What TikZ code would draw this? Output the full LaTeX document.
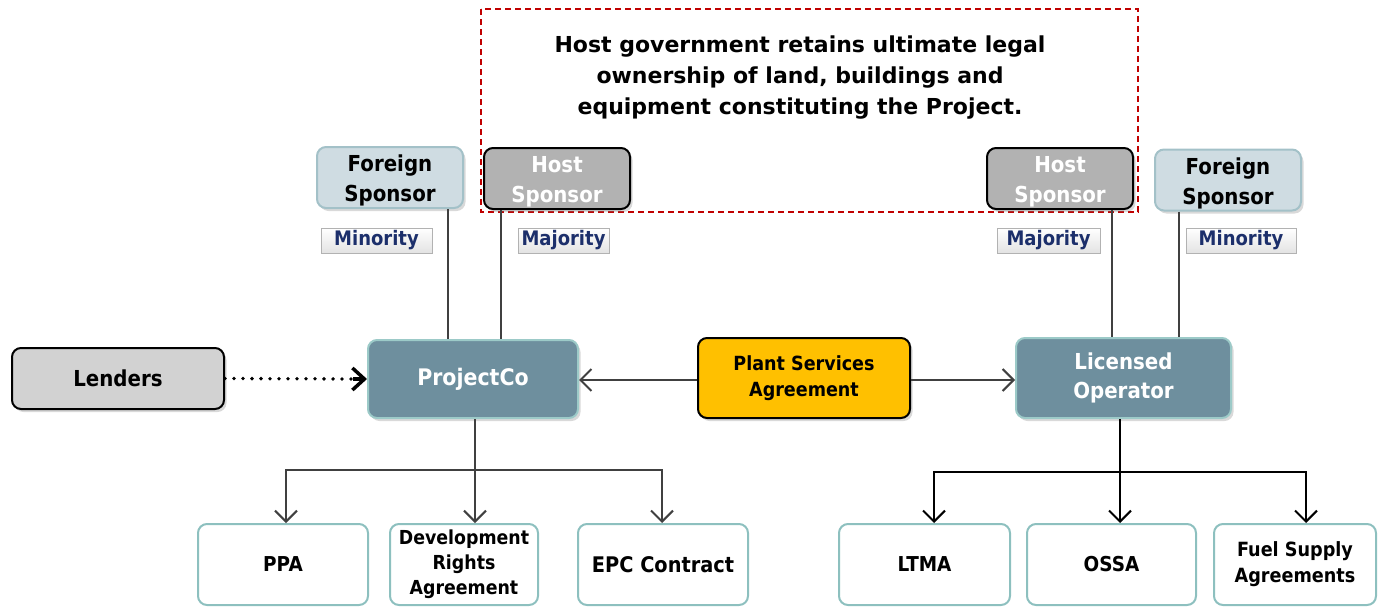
\documentclass[tikz,border=0pt]{standalone}
\usepackage{fontspec}
\setmainfont[FakeStretch=0.9]{DejaVu Sans}
\newfontfamily\titlefont{DejaVu Sans}
\usetikzlibrary{arrows.meta,shadows,calc}
\definecolor{fsfill}{HTML}{CFDCE2}
\definecolor{fsdraw}{HTML}{A3C1C8}
\definecolor{hsfill}{HTML}{B2B2B2}
\definecolor{pcfill}{HTML}{6E8F9E}
\definecolor{pcdraw}{HTML}{9CCAC8}
\definecolor{psafill}{HTML}{FFC000}
\definecolor{lbltext}{HTML}{1C2F6B}
\definecolor{botdraw}{HTML}{8DC0BF}
\definecolor{dashred}{HTML}{C00000}
\definecolor{linec}{HTML}{404040}
\newcommand{\sptext}[1]{\raisebox{-3pt}[\height][\depth]{\parbox{140pt}{\centering #1}}}
\tikzset{
  box/.style={rounded corners=9pt, align=center, font=\bfseries\fontsize{21}{26}\selectfont, inner sep=1pt,
    drop shadow={shadow xshift=2.5pt, shadow yshift=-3pt, opacity=0.3}},
  fsbox/.style={box, fill=fsfill, draw=fsdraw, line width=2pt, minimum width=146, minimum height=61, text=black,
    font=\bfseries\fontsize{22}{30}\selectfont},
  hsbox/.style={box, fill=hsfill, draw=black, line width=2pt, minimum width=146, minimum height=61, text=white,
    font=\bfseries\fontsize{22}{30}\selectfont},
  mainbox/.style={box, fill=pcfill, draw=pcdraw, line width=2pt, text=white},
  lbl/.style={draw=gray!60, line width=1pt, top color=white, bottom color=gray!22, text=lbltext,
    font=\bfseries\fontsize{20}{22}\selectfont, minimum height=25, inner sep=0pt},
  botbox/.style={rounded corners=9pt, align=center, fill=white, draw=botdraw, line width=2pt,
    font=\bfseries\fontsize{20.5}{25}\selectfont, minimum height=81, inner sep=1pt},
  conn/.style={draw=linec, line width=2pt},
  arr/.style={conn, -{Straight Barb[length=11, width=22, line width=2pt]}},
}
\begin{document}
\begin{tikzpicture}[x=1pt,y=-1pt]
\useasboundingbox (0,0) rectangle (1378,608);
% dashed box
\draw[dashred, line width=2.5pt, dash pattern=on 6pt off 4pt] (481,9) rectangle (1138,212);
\node[font=\titlefont\bfseries\fontsize{22}{31}\selectfont, align=center] (title) at (800,78)
  {Host government retains ultimate legal\\ ownership of land, buildings and\\ equipment constituting the Project.};
% sponsors
\node[fsbox] (FSL) at (390,177.5) {\sptext{Foreign\\Sponsor}};
\node[hsbox] (HSL) at (557,178.5) {\sptext{Host\\Sponsor}};
\node[hsbox] (HSR) at (1060,178.5) {\sptext{Host\\Sponsor}};
\node[fsbox] (FSR) at (1228,180) {\sptext{Foreign\\Sponsor}};
% labels
\node[lbl, minimum width=111] (minL) at (376.5,240.5) {Minority};
\node[lbl, minimum width=91] (majL) at (563.5,240.5) {Majority};
\node[lbl, minimum width=103] (majR) at (1048.5,240.5) {Majority};
\node[lbl, minimum width=110] (minR) at (1241,240.5) {Minority};
% main row
\node[box, fill=gray!35, draw=black, line width=2pt, minimum width=212, minimum height=61,
  font=\bfseries\fontsize{22}{26}\selectfont] (LEN) at (118,378.5) {Lenders};
\node[mainbox, minimum width=210, minimum height=78, font=\bfseries\fontsize{22.8}{26}\selectfont] (PC) at (473,379) {ProjectCo};
\node[box, fill=psafill, draw=black, line width=2pt, minimum width=212, minimum height=80,
  font=\bfseries\fontsize{19.5}{26}\selectfont] (PSA) at (804,378) {Plant Services\\Agreement};
\node[mainbox, minimum width=215, minimum height=80, font=\bfseries\fontsize{22}{29}\selectfont] (LO) at (1123.5,378) {Licensed\\Operator};
% bottom boxes
\node[botbox, minimum width=170] (PPA) at (283,564.5) {PPA};
\node[botbox, minimum width=148, font=\bfseries\fontsize{19.3}{25}\selectfont] (DRA) at (464,564.5) {Development\\Rights\\Agreement};
\node[botbox, minimum width=170, font=\bfseries\fontsize{21.5}{25}\selectfont] (EPC) at (663,564.5) {EPC Contract};
\node[botbox, minimum width=171] (LTMA) at (924.5,564.5) {LTMA};
\node[botbox, minimum width=169] (OSSA) at (1111.5,564.5) {OSSA};
\node[botbox, minimum width=162, font=\bfseries\fontsize{19.6}{26}\selectfont] (FUEL) at (1295,564.5) {Fuel Supply\\Agreements};
% sponsor lines
\draw[conn] (FSL.south -| 448,0) -- (PC.north -| 448,0);
\draw[conn] (HSL.south -| 501,0) -- (PC.north -| 501,0);
\draw[conn] (HSR.south -| 1112,0) -- (LO.north -| 1112,0);
\draw[conn] (FSR.south -| 1179,0) -- (LO.north -| 1179,0);
% main arrows
\draw[line width=3.8pt, line cap=round, dash pattern=on 0pt off 9pt] (LEN.east) -- ([xshift=-6pt]PC.west);
\draw[line width=3.5pt, -{Straight Barb[length=12, width=22, line width=3.5pt]}] ([xshift=-14pt]PC.west) -- (PC.west);
\draw[arr] (PSA.west |- 0,380) -- (PC.east |- 0,380);
\draw[arr] (PSA.east |- 0,380) -- (LO.west |- 0,380);
% ProjectCo tree
\coordinate (pcj) at (475,470);
\draw[conn] (PC.south -| pcj) -- (pcj);
\draw[arr] (pcj) -| (PPA.north -| 286,0);
\draw[arr] (pcj) -| (EPC.north -| 662,0);
\draw[arr] (pcj) -- (DRA.north -| pcj);
% LO tree
\coordinate (loj) at (1120,472);
\draw[line width=2pt] (LO.south -| loj) -- (loj);
\draw[line width=2pt, -{Straight Barb[length=11, width=22, line width=2pt]}] (loj) -| (LTMA.north -| 934,0);
\draw[line width=2pt, -{Straight Barb[length=11, width=22, line width=2pt]}] (loj) -| (FUEL.north -| 1306,0);
\draw[line width=2pt, -{Straight Barb[length=11, width=22, line width=2pt]}] (loj) -- (OSSA.north -| loj);
\end{tikzpicture}
\end{document}
